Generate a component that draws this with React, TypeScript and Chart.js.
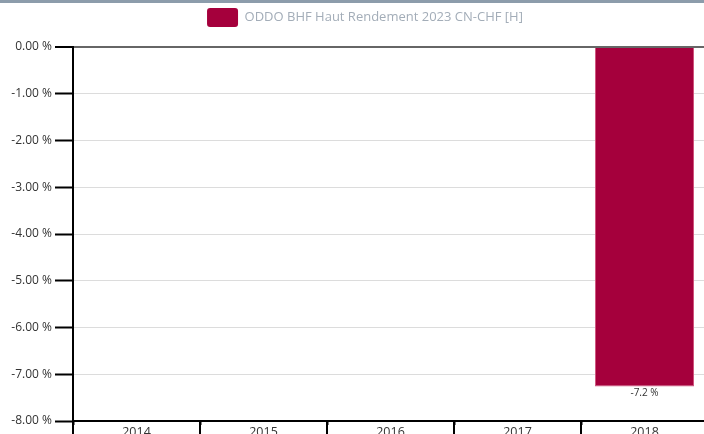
import React, { useEffect, useRef } from "react";
import { Chart, registerables } from "chart.js";

Chart.register(...registerables);

const categories = ["2014", "2015", "2016", "2017", "2018"];
const seriesName = "ODDO BHF Haut Rendement 2023 CN-CHF [H]";
const seriesValues: (number | null)[] = [null, null, null, null, -7.26];
const yTicks = [0, -1, -2, -3, -4, -5, -6, -7, -8];

const FONT = "'Open Sans', 'Noto Sans', sans-serif";

const valueLabelPlugin = {
  id: "valueLabels",
  afterDatasetsDraw(chart: any) {
    const ctx = chart.ctx;
    const meta = chart.getDatasetMeta(0);
    ctx.save();
    ctx.font = `10px ${FONT}`;
    ctx.fillStyle = "#333";
    ctx.textAlign = "center";
    ctx.textBaseline = "top";
    meta.data.forEach((el: any, i: number) => {
      const v = seriesValues[i];
      if (v == null) return;
      const t = (Math.trunc(v * 10) / 10).toFixed(1) + " %";
      ctx.fillText(t, el.x, el.y + 2);
    });
    ctx.restore();
  },
};

const topBarPlugin = {
  id: "topBar",
  afterDraw(chart: any) {
    const ctx = chart.ctx;
    ctx.save();
    ctx.fillStyle = "#8c9cab";
    ctx.fillRect(0, 0, chart.width, 3);
    // extend category boundary ticks below the x axis
    const xs = chart.scales.x;
    ctx.strokeStyle = "#000";
    ctx.lineWidth = 2;
    const n = categories.length;
    const step = xs.getPixelForValue(1) - xs.getPixelForValue(0);
    for (let i = 0; i <= n; i++) {
      const px = Math.round(xs.getPixelForValue(0) - step / 2 + i * step);
      ctx.beginPath();
      ctx.moveTo(px, chart.chartArea.bottom);
      ctx.lineTo(px, chart.height);
      ctx.stroke();
    }
    ctx.restore();
  },
};

const legendSpacing = {
  id: "legendSpacing",
  beforeInit(chart: any) {
    const lg = chart.legend;
    if (!lg) return;
    const orig = lg.fit;
    lg.fit = function () {
      orig.call(this);
      this.height += 10;
    };
  },
};

export default function App() {
  const ref = useRef<HTMLCanvasElement>(null);
  useEffect(() => {
    document.body.style.overflow = "hidden";
    const chart = new Chart(ref.current!, {
      type: "bar",
      data: {
        labels: categories,
        datasets: [
          {
            label: seriesName,
            data: seriesValues,
            backgroundColor: "#a5003c",
            borderColor: "#d0567f",
            borderWidth: 1,
            barPercentage: 0.78,
            categoryPercentage: 1,
          },
        ],
      },
      options: {
        animation: false,
        responsive: false,
        devicePixelRatio: 1,
        layout: { padding: { top: 0, right: 0, left: 0, bottom: 10 } },
        plugins: {
          legend: {
            display: true,
            position: "top",
            labels: {
              boxWidth: 31,
              boxHeight: 19,
              useBorderRadius: true,
              borderRadius: 3,
              color: "#a3adb8",
              font: { family: FONT, size: 13 },
              padding: 8,
              generateLabels: () => [
                {
                  text: seriesName,
                  fillStyle: "#a5003c",
                  strokeStyle: "#a5003c",
                  lineWidth: 0,
                  datasetIndex: 0,
                  borderRadius: 3,
                  fontColor: "#a3adb8",
                },
              ],
            },
          },
          tooltip: { enabled: false },
        },
        scales: {
          x: {
            grid: {
              offset: true,
              drawOnChartArea: false,
              drawTicks: true,
              tickLength: 4,
              tickColor: "#000",
              tickWidth: 2,
            },
            border: { display: true, color: "#000", width: 2 },
            ticks: {
              color: "#333",
              font: { family: FONT, size: 12.5 },
              padding: 0,
              maxRotation: 0,
            },
          },
          y: {
            min: -8,
            max: 0,
            afterBuildTicks: (scale: any) => {
              scale.ticks = yTicks.map((v) => ({ value: v }));
            },
            afterFit: (scale: any) => {
              scale.width = 73;
            },
            grid: {
              color: (c: any) => (c.tick && c.tick.value === 0 ? "#666" : "#dcdcdc"),
              lineWidth: (c: any) => (c.tick && c.tick.value === 0 ? 2 : 1),
              tickLength: 18,
              tickColor: "#000",
              tickWidth: 2,
            },
            border: { display: true, color: "#000", width: 2 },
            ticks: {
              color: "#333",
              font: { family: FONT, size: 12 },
              padding: 3,
              callback: (v: any) => Number(v).toFixed(2) + " %",
            },
          },
          pad: {
            type: "linear",
            position: "right",
            display: true,
            grid: { display: false, drawTicks: false },
            border: { display: false },
            ticks: { display: false },
            afterFit: (scale: any) => {
              scale.width = 22;
            },
          },
        },
      },
      plugins: [valueLabelPlugin, topBarPlugin, legendSpacing],
    } as any);
    return () => chart.destroy();
  }, []);
  return (
    <div style={{ position: "absolute", left: 0, top: 0 }}>
      <canvas ref={ref} width={730} height={450} style={{ display: "block" }} />
    </div>
  );
}
